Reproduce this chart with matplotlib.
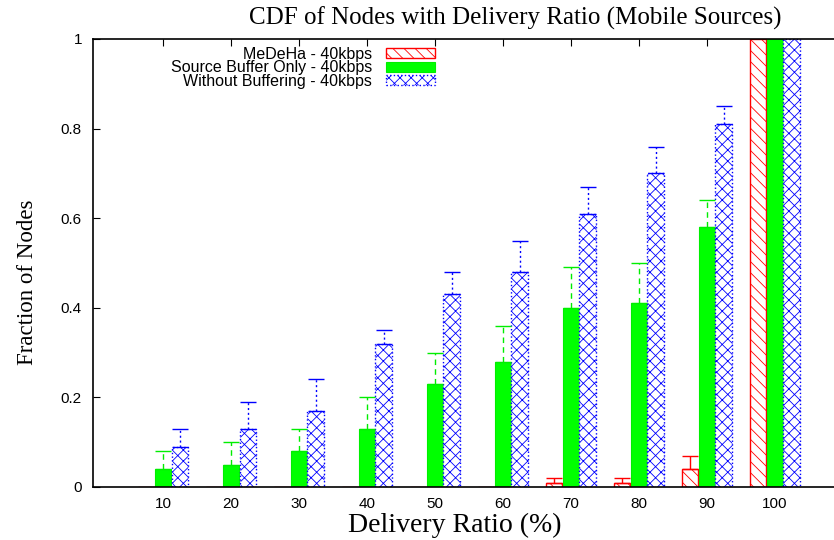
import matplotlib
matplotlib.use("Agg")
import matplotlib.pyplot as plt
import numpy as np

categories = ["10", "20", "30", "40", "50", "60", "70", "80", "90", "100"]
medeha = [0, 0, 0, 0, 0, 0, 0.01, 0.01, 0.04, 1.0]
medeha_hi = [0, 0, 0, 0, 0, 0, 0.02, 0.02, 0.07, 1.0]
source_buf = [0.04, 0.05, 0.08, 0.13, 0.23, 0.28, 0.40, 0.41, 0.58, 1.0]
source_buf_hi = [0.08, 0.10, 0.13, 0.20, 0.30, 0.36, 0.49, 0.50, 0.64, 1.0]
no_buf = [0.09, 0.13, 0.17, 0.32, 0.43, 0.48, 0.61, 0.70, 0.81, 1.0]
no_buf_hi = [0.13, 0.19, 0.24, 0.35, 0.48, 0.55, 0.67, 0.76, 0.85, 1.0]
yticks = [0, 0.2, 0.4, 0.6, 0.8, 1]
ytick_labels = ["0", "0.2", "0.4", "0.6", "0.8", "1"]

plt.rcParams['hatch.linewidth'] = 0.6
fig = plt.figure(figsize=(8.34, 5.4), dpi=100)
ax = fig.add_axes([93/834, 1-487/540, 1-93/834, (487-39)/540])

x = np.arange(len(categories))
w = 0.24
off = 0.245

b1 = ax.bar(x - off, medeha, w, facecolor='white', edgecolor='red', hatch='\\\\\\', linewidth=1.0,
            label='MeDeHa - 40kbps', zorder=2)
b2 = ax.bar(x, source_buf, w, facecolor='#00ff00', edgecolor='#00ee00', linewidth=0.8,
            label='Source Buffer Only - 40kbps', zorder=2)
b3 = ax.bar(x + off, no_buf, w, facecolor='white', edgecolor='blue', hatch='xxx', linewidth=1.0,
            linestyle=':', label='Without Buffering - 40kbps', zorder=2)

m_idx = [i for i in range(len(x)) if medeha_hi[i] > medeha[i]]
e1 = ax.errorbar(x[m_idx] - off, np.array(medeha)[m_idx],
                 yerr=[np.zeros(len(m_idx)), (np.array(medeha_hi) - np.array(medeha))[m_idx]],
                 fmt='none', ecolor='red', elinewidth=1.0, capsize=5.5, capthick=1.0, zorder=3)
s_idx = [i for i in range(len(x)) if source_buf_hi[i] > source_buf[i]]
e2 = ax.errorbar(x[s_idx], np.array(source_buf)[s_idx],
                 yerr=[np.zeros(len(s_idx)), (np.array(source_buf_hi) - np.array(source_buf))[s_idx]],
                 fmt='none', ecolor='#00ee00', elinewidth=1.0, capsize=5.5, capthick=1.0, zorder=3)
e2[2][0].set_linestyle((0, (4, 3)))
n_idx = [i for i in range(len(x)) if no_buf_hi[i] > no_buf[i]]
e3 = ax.errorbar(x[n_idx] + off, np.array(no_buf)[n_idx],
                 yerr=[np.zeros(len(n_idx)), (np.array(no_buf_hi) - np.array(no_buf))[n_idx]],
                 fmt='none', ecolor='blue', elinewidth=1.0, capsize=5.5, capthick=1.0, zorder=3)
e3[2][0].set_linestyle((0, (1.5, 2)))

ax.set_xlim(-1.03, 9.87)
ax.set_ylim(0, 1)
ax.set_xticks(x)
ax.set_xticklabels(categories, fontsize=11, family='Liberation Sans')
ax.set_yticks(yticks)
ax.set_yticklabels(ytick_labels, fontsize=11, family='Liberation Sans')
ax.tick_params(axis='x', which='both', bottom=True, top=True, direction='in', length=5, pad=7)
for t in ax.xaxis.get_major_ticks():
    t.tick1line.set_visible(False)
ax.tick_params(axis='y', direction='in', length=5, pad=8, right=False)
ax.spines['right'].set_visible(False)
for s in ['left', 'bottom', 'top']:
    ax.spines[s].set_linewidth(1.2)
    ax.spines[s].set_zorder(4)

fig.text(515/834, 1-18/540, 'CDF of Nodes with Delivery Ratio (Mobile Sources)',
         family='Liberation Serif', fontsize=18, ha='center', va='center')
fig.text(455/834, 1-525/540, 'Delivery Ratio (%)', family='Liberation Serif', fontsize=20,
         ha='center', va='center')
fig.text(28/834, 1-282/540, 'Fraction of Nodes', family='Liberation Serif', fontsize=16.5,
         ha='center', va='center', rotation=90)

leg = ax.legend(handles=[b1, b2, b3], loc='upper right',
                bbox_to_anchor=(443/834, 1-39/540), bbox_transform=fig.transFigure,
                frameon=False, markerfirst=False, borderpad=0, labelspacing=-0.1,
                handlelength=3.1, handleheight=0.6, handletextpad=0.85,
                prop={'family': 'Liberation Sans', 'size': 11.5})

fig.savefig('out.png', dpi=100)
